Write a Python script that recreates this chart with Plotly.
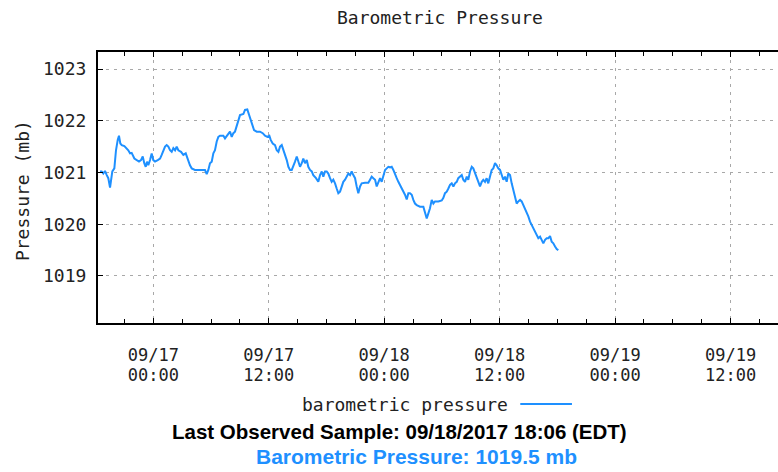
import pandas as pd
import plotly.graph_objects as go

# barometric pressure samples, hours relative to 09/17/2017 00:00 (EDT)
hours = [-5.54, -5.37, -5.20, -5.02, -4.84, -4.68, -4.50, -4.40, -4.26, -4.05,
         -3.88, -3.70, -3.57, -3.43, -3.28, -3.01, -2.77, -2.60, -2.42, -2.25,
         -1.97, -1.73, -1.49, -1.28, -1.10, -0.94, -0.79, -0.65, -0.52, -0.34,
         -0.17, 0.00, 0.18, 0.46, 0.70, 0.87, 1.22, 1.39, 1.56, 1.74,
         1.91, 2.08, 2.26, 2.43, 2.60, 2.88, 3.12, 3.37, 3.58, 3.81,
         3.99, 4.33, 4.68, 5.03, 5.37, 5.55, 5.72, 5.89, 6.07, 6.24,
         6.41, 6.59, 6.76, 6.93, 7.28, 7.45, 7.63, 7.80, 7.97, 8.15,
         8.32, 8.49, 8.67, 8.84, 9.01, 9.36, 9.53, 9.77, 9.98, 10.12,
         10.29, 10.47, 10.75, 11.09, 11.37, 11.61, 11.85, 12.06, 12.20, 12.41,
         12.65, 12.83, 13.00, 13.17, 13.35, 13.52, 13.69, 13.87, 14.04, 14.21,
         14.39, 14.55, 14.73, 14.91, 15.07, 15.25, 15.43, 15.59, 15.77, 15.95,
         16.11, 16.29, 16.47, 16.63, 16.91, 17.15, 17.33, 17.51, 17.67, 17.85,
         18.02, 18.19, 18.37, 18.54, 18.71, 18.89, 19.06, 19.23, 19.41, 19.58,
         19.75, 19.93, 20.10, 20.27, 20.45, 20.62, 20.79, 20.97, 21.14, 21.31,
         21.49, 21.66, 22.01, 22.35, 22.53, 22.70, 22.87, 23.05, 23.22, 23.39,
         23.57, 23.74, 23.91, 24.09, 24.26, 24.43, 24.61, 24.78, 24.95, 25.13,
         25.30, 25.47, 25.64, 25.82, 25.99, 26.16, 26.34, 26.51, 26.68, 26.86,
         27.03, 27.20, 27.38, 27.72, 28.07, 28.24, 28.42, 28.59, 28.76, 28.94,
         29.11, 29.28, 29.63, 29.98, 30.15, 30.32, 30.50, 30.67, 30.84, 31.02,
         31.19, 31.36, 31.54, 31.70, 31.88, 32.06, 32.22, 32.40, 32.58, 32.74,
         32.92, 33.10, 33.26, 33.44, 33.62, 33.78, 33.96, 34.14, 34.30, 34.48,
         34.65, 34.82, 35.00, 35.17, 35.34, 35.52, 35.69, 35.86, 36.04, 36.21,
         36.38, 36.56, 36.73, 36.90, 37.08, 37.25, 37.42, 37.60, 37.77, 37.94,
         38.12, 38.29, 38.46, 38.64, 38.81, 38.98, 39.16, 39.33, 39.50, 39.68,
         39.85, 40.02, 40.20, 40.37, 40.54, 40.72, 40.89, 41.06, 41.24, 41.41,
         41.58, 41.76, 41.93, 42.10]

pressure = [1021.02, 1021.02, 1020.98, 1021.03, 1020.95, 1020.89, 1020.71, 1020.86, 1021.02, 1021.08,
            1021.43, 1021.63, 1021.71, 1021.56, 1021.53, 1021.51, 1021.47, 1021.43, 1021.37, 1021.38,
            1021.27, 1021.24, 1021.21, 1021.24, 1021.31, 1021.18, 1021.11, 1021.21, 1021.14, 1021.24,
            1021.37, 1021.24, 1021.21, 1021.24, 1021.27, 1021.34, 1021.50, 1021.53, 1021.50, 1021.43,
            1021.40, 1021.47, 1021.43, 1021.50, 1021.43, 1021.40, 1021.34, 1021.37, 1021.24, 1021.14,
            1021.08, 1021.05, 1021.05, 1021.05, 1021.05, 1020.97, 1021.05, 1021.18, 1021.21, 1021.37,
            1021.43, 1021.60, 1021.69, 1021.71, 1021.71, 1021.66, 1021.71, 1021.76, 1021.79, 1021.69,
            1021.76, 1021.79, 1021.92, 1022.01, 1022.11, 1022.13, 1022.21, 1022.22, 1022.11, 1022.01,
            1021.92, 1021.82, 1021.79, 1021.79, 1021.76, 1021.71, 1021.69, 1021.71, 1021.63, 1021.56,
            1021.53, 1021.43, 1021.40, 1021.50, 1021.53, 1021.43, 1021.37, 1021.24, 1021.11, 1021.05,
            1021.05, 1021.11, 1021.21, 1021.31, 1021.21, 1021.11, 1021.18, 1021.27, 1021.18, 1021.24,
            1021.11, 1021.05, 1021.02, 1020.95, 1020.89, 1020.82, 1020.95, 1021.02, 1020.92, 1021.02,
            1021.02, 1020.98, 1020.89, 1020.82, 1020.86, 1020.79, 1020.69, 1020.60, 1020.63, 1020.73,
            1020.82, 1020.86, 1020.92, 1020.98, 1020.95, 1021.02, 1020.95, 1020.89, 1020.73, 1020.60,
            1020.73, 1020.79, 1020.80, 1020.80, 1020.86, 1020.92, 1020.89, 1020.86, 1020.73, 1020.80,
            1020.89, 1020.82, 1020.95, 1021.05, 1021.08, 1021.11, 1021.10, 1021.11, 1021.05, 1020.95,
            1020.89, 1020.82, 1020.76, 1020.69, 1020.63, 1020.57, 1020.48, 1020.60, 1020.60, 1020.57,
            1020.47, 1020.40, 1020.37, 1020.34, 1020.34, 1020.24, 1020.11, 1020.21, 1020.31, 1020.47,
            1020.40, 1020.44, 1020.44, 1020.46, 1020.51, 1020.60, 1020.63, 1020.69, 1020.76, 1020.79,
            1020.73, 1020.79, 1020.82, 1020.89, 1020.92, 1020.95, 1020.86, 1020.82, 1020.92, 1020.86,
            1021.02, 1021.11, 1021.08, 1020.98, 1020.92, 1020.82, 1020.73, 1020.82, 1020.86, 1020.82,
            1020.89, 1020.79, 1020.92, 1021.05, 1021.08, 1021.18, 1021.14, 1021.08, 1021.05, 1020.95,
            1020.86, 1020.92, 1020.82, 1020.98, 1020.95, 1020.79, 1020.66, 1020.53, 1020.40, 1020.44,
            1020.47, 1020.44, 1020.37, 1020.31, 1020.21, 1020.15, 1020.05, 1019.99, 1019.92, 1019.86,
            1019.79, 1019.73, 1019.76, 1019.70, 1019.63, 1019.70, 1019.73, 1019.73, 1019.77, 1019.66,
            1019.63, 1019.57, 1019.52, 1019.50]

base = pd.Timestamp("2017-09-17 00:00")
times = base + pd.to_timedelta(hours, unit="h")

x_range = ["2017-09-16 18:15", "2017-09-19 16:56"]
y_range = [1018.09, 1023.33]

mono = "DejaVu Sans Mono"
blue = "#1E90FF"
txt = "#222"
twelve_h = 12 * 3600 * 1000

fig = go.Figure()
fig.add_trace(go.Scatter(x=times, y=pressure, mode="lines",
                         line=dict(color=blue, width=2), showlegend=False))
# invisible trace so the second (time-of-day) label row gets drawn
fig.add_trace(go.Scatter(x=times[:1], y=pressure[:1], xaxis="x2", mode="lines",
                         opacity=0, showlegend=False, hoverinfo="skip"))

fig.update_layout(
    width=778, height=472,
    margin=dict(l=98, r=0, t=52, b=149),
    plot_bgcolor="white", paper_bgcolor="white",
    font=dict(family=mono, size=18, color=txt),
    xaxis2=dict(overlaying="x", matches="x", side="bottom", anchor="y", type="date",
                range=x_range, tick0="2017-09-17 00:00", dtick=twelve_h,
                tickformat="%H:%M", ticks="", showgrid=False, showline=False,
                tickfont=dict(size=17), zeroline=False, ticklabelstandoff=40),
)

fig.layout.xaxis.update(
    range=x_range, type="date",
    tick0="2017-09-17 00:00", dtick=twelve_h,
    tickformat="%m/%d", tickfont=dict(size=17),
    ticks="inside", ticklen=5, tickcolor="black",
    minor=dict(dtick=3 * 3600 * 1000, ticks="inside", ticklen=4, tickcolor="black", showgrid=False),
    showline=True, linecolor="black", linewidth=2, mirror="ticks",
    showgrid=True, gridcolor="#a8a8a8", griddash="3px,5px", gridwidth=1,
    ticklabelstandoff=16,
    zeroline=False,
)
fig.update_yaxes(
    range=y_range, dtick=1, tick0=1019,
    ticks="inside", ticklen=5, tickcolor="black",
    showline=True, linecolor="black", linewidth=2,
    showgrid=True, gridcolor="#a8a8a8", griddash="3px,5px", gridwidth=1,
    ticklabelstandoff=6,
    zeroline=False,
)

fig.add_annotation(text="Barometric Pressure", xref="paper", yref="paper",
                   x=0.503, y=1.129, xanchor="center", yanchor="middle", showarrow=False,
                   font=dict(family=mono, size=18, color=txt))
fig.add_annotation(text="Pressure (mb)", xref="paper", yref="paper", textangle=-90,
                   x=-0.112, y=0.49, xanchor="center", yanchor="middle", showarrow=False,
                   font=dict(family=mono, size=18, color=txt))

# legend: text followed by a line sample
fig.add_annotation(text="barometric pressure", xref="paper", yref="paper",
                   x=0.451, y=-0.299, xanchor="center", yanchor="middle", showarrow=False,
                   font=dict(family=mono, size=18, color=txt))
fig.add_shape(type="line", xref="paper", yref="paper", x0=0.621, x1=0.697, y0=-0.299, y1=-0.299,
              line=dict(color=blue, width=2))

fig.add_annotation(text="<b>Last Observed Sample: 09/18/2017 18:06 (EDT)</b>", xref="paper", yref="paper",
                   x=0.443, y=-0.402, xanchor="center", yanchor="middle", showarrow=False,
                   font=dict(family="Liberation Sans, Arial", size=20.5, color="black"))
fig.add_annotation(text="<b>Barometric Pressure: 1019.5 mb</b>", xref="paper", yref="paper",
                   x=0.469, y=-0.494, xanchor="center", yanchor="middle", showarrow=False,
                   font=dict(family="Liberation Sans, Arial", size=21, color=blue))

fig.write_html("out.html", config={"displayModeBar": False},
               post_script="document.body.style.margin='0px';")
